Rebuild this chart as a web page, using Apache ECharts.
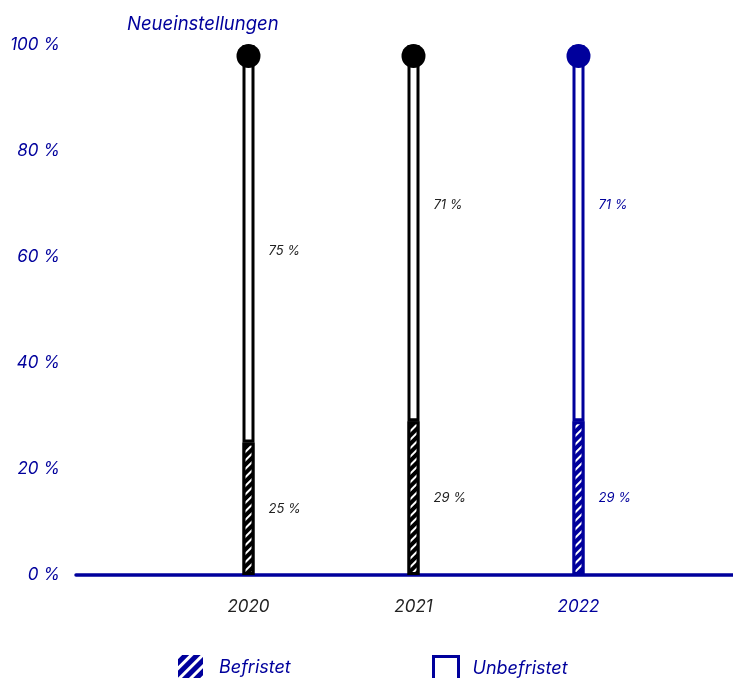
<!DOCTYPE html>
<html>
<head>
<meta charset="utf-8">
<script src="https://cdn.jsdelivr.net/npm/echarts@6/dist/echarts.min.js"></script>
<style>
  html, body { margin: 0; padding: 0; background: #fff; }
  #chart { width: 733px; height: 678px; }
</style>
</head>
<body>
<div id="chart"></div>
<script>
// Neueinstellungen: befristet vs. unbefristet, Anteil in Prozent
const years = ['2020', '2021', '2022'];
const befristet = [25, 29, 29];
const unbefristet = [75, 71, 71];
const total = [100, 100, 100];
const yMin = 0, yMax = 100, yStep = 20;

const BLUE = '#00009c';
const INK = '#000000';
const yearColors = [INK, INK, BLUE];
const labelColors = ['#222222', '#222222', BLUE];
const topLabelOffset = [7, -28, -28];
const FONT = 'Inter';

const hatch = {
  symbol: 'rect',
  symbolSize: 1,
  color: '#ffffff',
  dashArrayX: [1, 0],
  dashArrayY: [1.8, 3.2],
  rotation: -Math.PI / 4
};

const chart = echarts.init(document.getElementById('chart'), null, { renderer: 'canvas' });

const befristetData = befristet.map((v, i) => ({
  value: v,
  itemStyle: { color: yearColors[i], borderColor: yearColors[i] },
  label: { color: labelColors[i] }
}));
const unbefristetData = unbefristet.map((v, i) => ({
  value: v,
  itemStyle: { color: '#ffffff', borderColor: yearColors[i] },
  label: { color: labelColors[i], offset: [0, topLabelOffset[i]] }
}));
const capData = total.map((v, i) => ({
  value: v,
  itemStyle: { color: yearColors[i], opacity: 1 }
}));

const labelStyle = {
  show: true,
  position: 'right',
  distance: 14,
  fontFamily: FONT,
  fontStyle: 'italic',
  fontSize: 13,
  formatter: p => p.value + ' %'
};
const italic = size => ({ fontFamily: FONT, fontStyle: 'italic', fontSize: size });

chart.setOption({
  animation: false,
  textStyle: { fontFamily: FONT },
  title: {
    text: 'Neueinstellungen',
    left: 122,
    top: 10,
    textStyle: Object.assign({ color: BLUE, fontWeight: 'normal' }, italic(18.5))
  },
  grid: [
    // bars: three bands of equal width
    { left: 166, right: 72, top: 45, bottom: 103 },
    // full-width baseline and percentage scale
    { left: 76, right: 0, top: 45, bottom: 103 }
  ],
  legend: [
    {
      left: 178, top: 655, padding: 0,
      itemWidth: 25, itemHeight: 25,
      icon: 'rect',
      data: [{
        name: 'Befristet',
        itemStyle: {
          color: BLUE, borderWidth: 0,
          decal: { symbol: 'rect', symbolSize: 1, color: '#ffffff', dashArrayX: [1, 0], dashArrayY: [3, 5], rotation: -Math.PI / 4 }
        }
      }],
      textStyle: Object.assign({ color: BLUE, padding: [2, 0, 0, 11] }, italic(18))
    },
    {
      left: 432, top: 655, padding: 0,
      itemWidth: 25, itemHeight: 25,
      icon: 'rect',
      data: [{
        name: 'Unbefristet',
        itemStyle: { color: '#ffffff', borderColor: BLUE, borderWidth: 3 }
      }],
      textStyle: Object.assign({ color: BLUE, padding: [2, 0, 0, 9] }, italic(18))
    }
  ],
  xAxis: [
    {
      gridIndex: 0,
      type: 'category',
      data: years,
      axisLine: { show: false },
      axisTick: { show: false },
      axisLabel: {
        margin: 23,
        formatter: (v, i) => (i === 2 ? '{b|' : '{k|') + v + '}',
        rich: {
          k: Object.assign({ color: '#222222' }, italic(17)),
          b: Object.assign({ color: BLUE }, italic(17))
        }
      }
    },
    {
      gridIndex: 1,
      type: 'value',
      min: 0,
      max: 1,
      splitLine: { show: false },
      axisTick: { show: false },
      axisLabel: { show: false },
      axisLine: { show: true, onZero: false, lineStyle: { color: BLUE, width: 3.5 } }
    }
  ],
  yAxis: [
    {
      gridIndex: 0,
      type: 'value',
      min: yMin, max: yMax, interval: yStep,
      show: false
    },
    {
      gridIndex: 1,
      type: 'value',
      min: yMin, max: yMax, interval: yStep,
      splitLine: { show: false },
      axisTick: { show: false },
      axisLine: { show: false },
      axisLabel: Object.assign({ margin: 16, formatter: '{value} %', color: BLUE }, italic(17))
    }
  ],
  series: [
    {
      name: 'Befristet',
      type: 'bar',
      xAxisIndex: 0, yAxisIndex: 0,
      stack: 'anteil',
      barWidth: 12,
      itemStyle: { color: BLUE, borderColor: BLUE, borderWidth: 3, decal: hatch },
      label: labelStyle,
      data: befristetData,
      z: 3
    },
    {
      name: 'Unbefristet',
      type: 'bar',
      xAxisIndex: 0, yAxisIndex: 0,
      stack: 'anteil',
      barWidth: 12,
      itemStyle: { color: '#ffffff', borderColor: BLUE, borderWidth: 3 },
      label: labelStyle,
      data: unbefristetData,
      z: 3
    },
    {
      name: 'Summe',
      type: 'scatter',
      xAxisIndex: 0, yAxisIndex: 0,
      symbol: 'circle',
      symbolSize: 24,
      symbolOffset: [0, 11],
      silent: true,
      data: capData,
      z: 4
    }
  ]
});
</script>
</body>
</html>
